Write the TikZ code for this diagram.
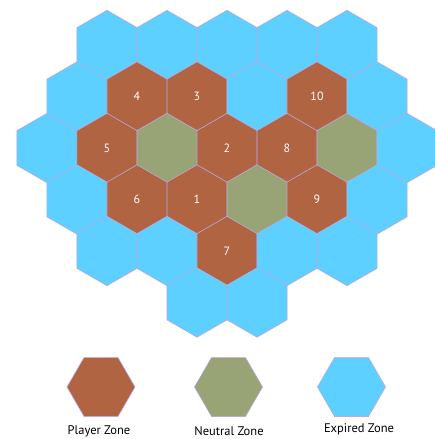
\documentclass[tikz,border=0pt]{standalone}
\usepackage{fontspec}
\setmainfont{PT Sans}
\usetikzlibrary{shapes.geometric}
\definecolor{expired}{RGB}{94,208,255}
\definecolor{player}{RGB}{176,100,66}
\definecolor{neutral}{RGB}{152,164,118}
\definecolor{edge}{RGB}{186,168,226}
\tikzset{
  hexcell/.style={regular polygon, regular polygon sides=6, shape border rotate=30,
    minimum size=69.4pt, inner sep=0pt, draw=edge, line width=0.6pt,
    text=white, font=\fontsize{12}{14}\selectfont},
  exp/.style={hexcell, fill=expired},
  ply/.style={hexcell, fill=player},
  neu/.style={hexcell, fill=neutral},
  legendhex/.style={regular polygon, regular polygon sides=6,
    minimum size=68pt, inner sep=0pt, draw=edge, line width=0.6pt},
  legendtext/.style={font=\fontsize{12.5}{14}\selectfont, text=black}
}
\begin{document}
\begin{tikzpicture}[x=1pt,y=-1pt]
\useasboundingbox (0,0) rectangle (435,439);
% row 1
\node[exp] (r1a) at (107,45) {};
\node[exp] (r1b) at (167,45) {};
\node[exp] (r1c) at (227,45) {};
\node[exp] (r1d) at (287,45) {};
\node[exp] (r1e) at (347,45) {};
% row 2
\node[exp] (r2a) at (77,96.5) {};
\node[ply] (c4) at (137,96.5) {4};
\node[ply] (c3) at (197,96.5) {3};
\node[exp] (r2d) at (257,96.5) {};
\node[ply] (c10) at (317,96.5) {10};
\node[exp] (r2f) at (377,96.5) {};
% row 3
\node[exp] (r3a) at (47,148) {};
\node[ply] (c5) at (107,148) {5};
\node[neu] (n1) at (167,148) {};
\node[ply] (c2) at (227,148) {2};
\node[ply] (c8) at (287,148) {8};
\node[neu] (n2) at (347,148) {};
\node[exp] (r3g) at (407,148) {};
% row 4
\node[exp] (r4a) at (77,199.5) {};
\node[ply] (c6) at (137,199.5) {6};
\node[ply] (c1) at (197,199.5) {1};
\node[neu] (n3) at (257,199.5) {};
\node[ply] (c9) at (317,199.5) {9};
\node[exp] (r4f) at (377,199.5) {};
% row 5
\node[exp] (r5a) at (107,251) {};
\node[exp] (r5b) at (167,251) {};
\node[ply] (c7) at (227,251) {7};
\node[exp] (r5d) at (287,251) {};
\node[exp] (r5e) at (347,251) {};
% row 6
\node[exp] (r6a) at (197,302.5) {};
\node[exp] (r6b) at (257,302.5) {};
% legend
\node[legendhex, fill=player] (lp) at (101,387) {};
\node[legendhex, fill=neutral] (ln) at (228.5,387) {};
\node[legendhex, fill=expired] (le) at (351.5,387) {};
\node[legendtext] (tp) at (99,431) {Player Zone};
\node[legendtext] (tn) at (229,431) {Neutral Zone};
\node[legendtext] (te) at (359,429.5) {Expired Zone};
\end{tikzpicture}
\end{document}
